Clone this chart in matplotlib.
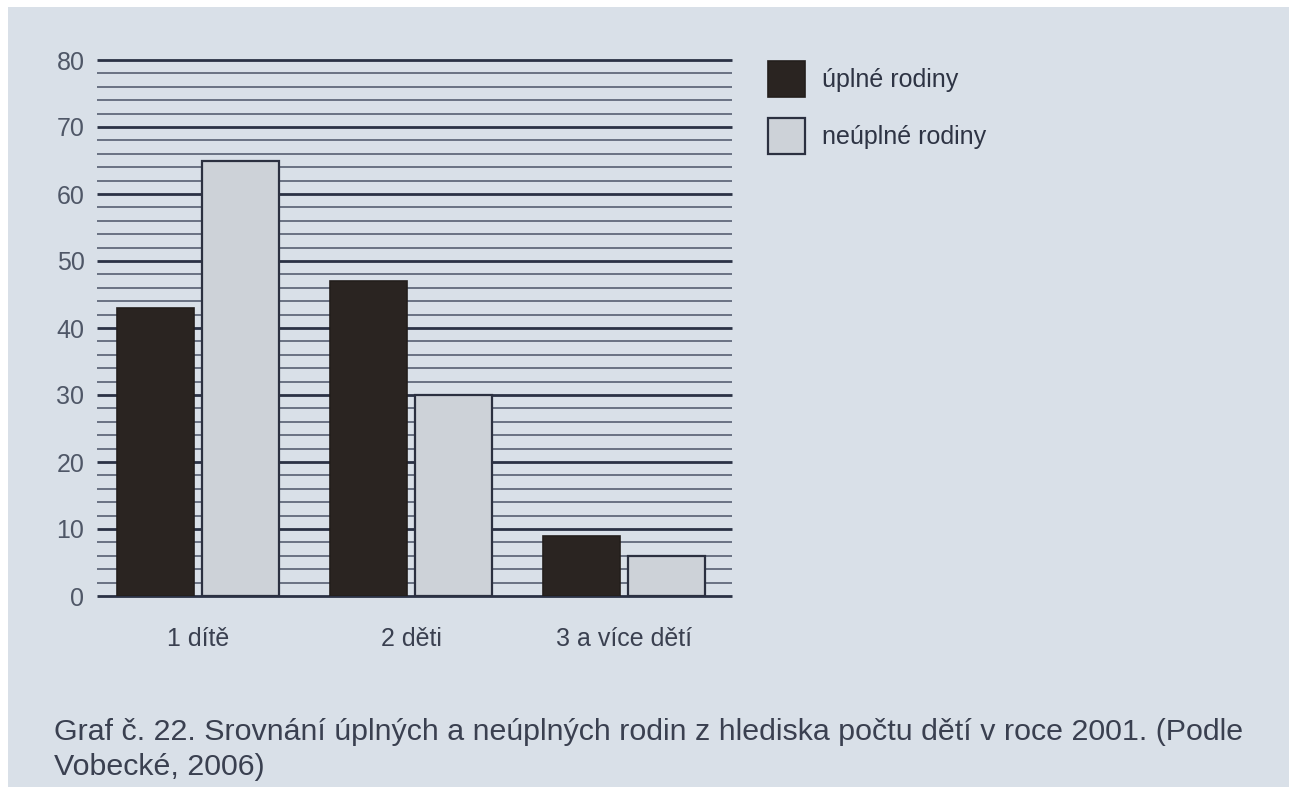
import matplotlib.pyplot as plt
from matplotlib.patches import Rectangle
import numpy as np

# Data
categories = ['1 dítě', '2 děti', '3 a více dětí']
uplne = [43, 47, 9]
neuplne = [65, 30, 6]
series_labels = ['úplné rodiny', 'neúplné rodiny']
y_ticks = [0, 10, 20, 30, 40, 50, 60, 70, 80]
caption_1 = 'Graf č. 22. Srovnání úplných a neúplných rodin z hlediska počtu dětí v roce 2001. (Podle'
caption_2 = 'Vobecké, 2006)'

plt.rcParams['font.family'] = ['Liberation Sans', 'DejaVu Sans']

W, H = 1289, 797
fig = plt.figure(figsize=(W / 100, H / 100), dpi=100)
fig.patch.set_facecolor('white')

# paper background (photo of a page)
fig.patches.append(Rectangle((8 / W, 1 - 787 / H), (W - 8) / W, (787 - 7) / H,
                             transform=fig.transFigure, facecolor='#d9e0e8',
                             edgecolor='none', zorder=-5))

ax = fig.add_axes([97 / W, 1 - 596 / H, (732 - 97) / W, (596 - 60) / H])
ax.set_facecolor('none')

# Horizontal rules: thick every 10, thin every 2
minor = [v for v in range(0, 81, 2) if v % 10 != 0]
ax.hlines(minor, -0.474, 2.507, colors='#4b5468', linewidth=1.1, zorder=1, clip_on=False)
ax.hlines(y_ticks, -0.474, 2.507, colors='#2b3245', linewidth=2.0, zorder=1, clip_on=False)

x = np.arange(len(categories))
w = 0.36
b1 = ax.bar(x - 0.2, uplne, w, color='#2a2421', edgecolor='#231e1c', linewidth=1.2,
            label=series_labels[0], zorder=2)
b2 = ax.bar(x + 0.2, neuplne, w, color='#cdd2d8', edgecolor='#2b3040', linewidth=1.6,
            label=series_labels[1], zorder=2)

ax.set_xlim(-0.474, 2.507)
ax.set_ylim(0, 80)
for s in ax.spines.values():
    s.set_visible(False)

ax.set_yticks(y_ticks)
ax.set_yticklabels([str(v) for v in y_ticks], fontsize=18, color='#4f5767')
ax.set_xticks(x)
ax.set_xticklabels(categories, fontsize=18, color='#3a4050')
ax.tick_params(axis='y', length=0, pad=9)
ax.tick_params(axis='x', length=0, pad=22)

fig.legend(handles=[b1, b2], loc='upper left', bbox_to_anchor=(768 / W, 1 - 61 / H),
           bbox_transform=fig.transFigure, frameon=False, fontsize=18,
           handlelength=1.48, handleheight=1.83, labelspacing=0.86,
           handletextpad=0.7, borderpad=0, borderaxespad=0, labelcolor='#2e3444')

fig.text(54 / W, 1 - 732 / H, caption_1, fontsize=21.9, color='#3a4050', va='center', ha='left')
fig.text(54 / W, 1 - 767 / H, caption_2, fontsize=21.9, color='#3a4050', va='center', ha='left')

fig.savefig('out.png', dpi=100, facecolor=fig.get_facecolor())
plt.close(fig)
